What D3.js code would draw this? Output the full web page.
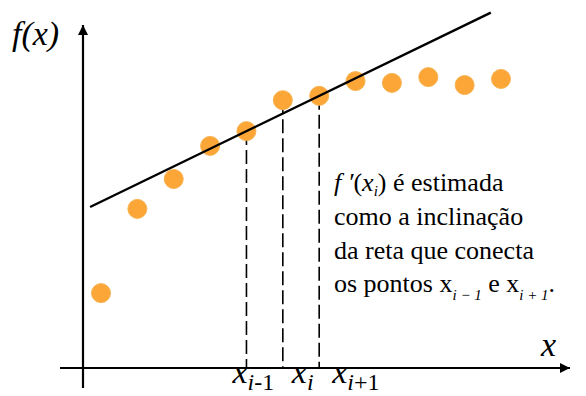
<!DOCTYPE html>
<html>
<head>
<meta charset="utf-8">
<script src="https://cdn.jsdelivr.net/npm/d3@7"></script>
<style>
  body { margin: 0; background: #fff; }
  #chart { position: relative; width: 586px; height: 396px; }
  #chart svg { position: absolute; left: 0; top: 0; }
  .lbl { position: absolute; white-space: nowrap; font-family: "Liberation Serif"; color: #000; }
  .sub { position: relative; }
</style>
</head>
<body>
<div id="chart"></div>
<script>
// data points (index along x, value of f)
var xIndex = [0, 1, 2, 3, 4, 5, 6, 7, 8, 9, 10, 11];
var fValues = [20.8, 44.2, 52.5, 61.7, 65.8, 74.4, 75.6, 79.7, 79.2, 80.8, 78.6, 80.3];

// the three marked points x_{i-1}, x_i, x_{i+1}
var markedIdx = [4, 5, 6];
var markedLabels = [["x", "i", "-1"], ["x", "i", ""], ["x", "i", "+1"]];
var labelShift = [-14, 9, 13];

var noteLines = ["é estimada", "como a inclinação", "da reta que conecta", "os pontos "];

var w = 586, h = 396;

var x = d3.scaleLinear().domain([0, 11]).range([101, 501]);
var y = d3.scaleLinear().domain([0, 100]).range([368, 8]);

var chart = d3.select("#chart");
var svg = chart.append("svg")
  .attr("width", w).attr("height", h);

// text placed by its baseline
function txt(px, py, size) {
  return chart.append("div").attr("class", "lbl")
    .style("left", px + "px")
    .style("top", (py - 0.84 * size) + "px")
    .style("font-size", size + "px")
    .style("line-height", size + "px");
}
function span(t, s, size, down, it) {
  var sp = t.append("span").text(s);
  if (size) sp.style("font-size", size + "px");
  if (down) sp.attr("class", "sub").style("top", down + "px");
  if (it) sp.style("font-style", "italic");
  return sp;
}

svg.append("defs").append("marker")
  .attr("id", "arr")
  .attr("viewBox", "0 0 10 10")
  .attr("refX", 10).attr("refY", 5)
  .attr("markerWidth", 20).attr("markerHeight", 10)
  .attr("markerUnits", "userSpaceOnUse")
  .attr("orient", "auto")
  .append("path").attr("d", "M0,0 L10,5 L0,10 Z").attr("fill", "#000");

// axes
svg.append("line")
  .attr("x1", 60).attr("y1", y(0)).attr("x2", 570).attr("y2", y(0))
  .attr("stroke", "#000").attr("stroke-width", 2.2)
  .attr("marker-end", "url(#arr)");
svg.append("line")
  .attr("x1", 83).attr("y1", 388).attr("x2", 83).attr("y2", 25)
  .attr("stroke", "#000").attr("stroke-width", 2.2)
  .attr("marker-end", "url(#arr)");

// dashed verticals
svg.selectAll(".drop")
  .data(markedIdx)
  .enter().append("line")
  .attr("class", "drop")
  .attr("x1", function(d) { return x(d); })
  .attr("x2", function(d) { return x(d); })
  .attr("y1", function(d) { return y(fValues[d]); })
  .attr("y2", y(0))
  .attr("stroke", "#000").attr("stroke-width", 1.6)
  .attr("stroke-dasharray", "14,5");

// points
svg.selectAll("circle")
  .data(xIndex)
  .enter().append("circle")
  .attr("cx", function(d) { return x(d); })
  .attr("cy", function(d) { return y(fValues[d]); })
  .attr("r", 9.5)
  .attr("fill", "#fba636")
  .attr("stroke", "#f7b352")
  .attr("stroke-width", 1);

// secant line through x_{i-1} and x_{i+1}
var a = markedIdx[0], b = markedIdx[2];
var slope = (fValues[b] - fValues[a]) / (b - a);
var x0 = -0.3, x1 = 10.72;
svg.append("line")
  .attr("x1", x(x0)).attr("y1", y(fValues[a] + slope * (x0 - a)))
  .attr("x2", x(x1)).attr("y2", y(fValues[a] + slope * (x1 - a)))
  .attr("stroke", "#000").attr("stroke-width", 2.4);

// axis titles
txt(12, 46, 34).style("font-style", "italic").text("f(x)");
txt(541, 357, 34).style("font-style", "italic").text("x");

// x labels
markedIdx.forEach(function(d, i) {
  var t = txt(x(d) + labelShift[i], 384, 34);
  span(t, markedLabels[i][0], 0, 0, true);
  var s = span(t, markedLabels[i][1], 24, 7, true);
  if (markedLabels[i][2]) span(t, markedLabels[i][2], 24, 7, false);
});

// note
var nx = 334, fs = 26;
var t1 = txt(nx, 192, fs);
span(t1, "f ′", 0, 0, true);
span(t1, "(", 0, 0, false);
span(t1, "x", 0, 0, true);
span(t1, "i", 15, 5, true);
span(t1, ") " + noteLines[0], 0, 0, false);

txt(nx, 226, fs).text(noteLines[1]);
txt(nx, 260, fs).text(noteLines[2]);
var t4 = txt(nx, 293, fs);
span(t4, noteLines[3] + "x", 0, 0, false);
span(t4, "i − 1", 15, 8, true);
span(t4, " e x", 0, 0, false);
span(t4, "i + 1", 15, 8, true);
span(t4, ".", 0, 0, false);
</script>
</body>
</html>
